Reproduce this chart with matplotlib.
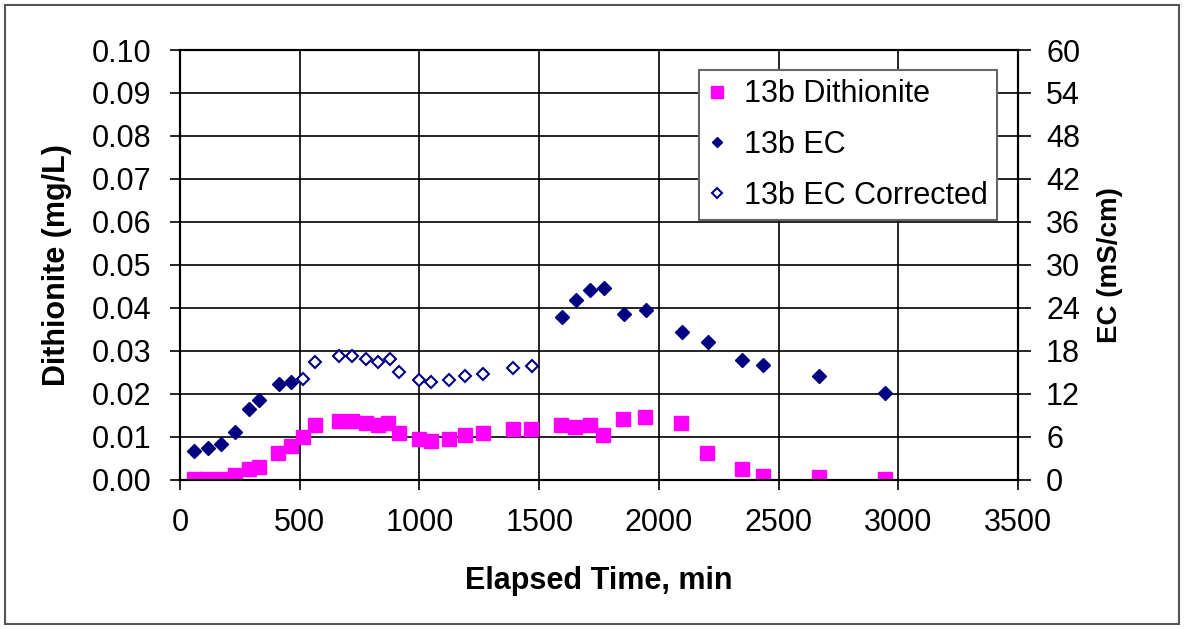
import matplotlib.pyplot as plt
from matplotlib.patches import Rectangle

plt.rcParams['font.family'] = ['Liberation Sans', 'DejaVu Sans']

# dithionite samples
t_dith = [60, 110, 170, 230, 290, 330, 410, 465, 515, 565, 665, 720, 775, 825, 870,
          915, 1000, 1050, 1125, 1190, 1265, 1390, 1465, 1590, 1650, 1710, 1765, 1850,
          1940, 2090, 2200, 2345, 2435, 2670, 2945]
dith = [0.0002, 0.0002, 0.0002, 0.0012, 0.0026, 0.0030, 0.0062, 0.0080, 0.0099, 0.0128,
        0.0137, 0.0137, 0.0132, 0.0128, 0.0132, 0.0108, 0.0095, 0.0090, 0.0095, 0.0105,
        0.0108, 0.0118, 0.0118, 0.0128, 0.0123, 0.0128, 0.0105, 0.0142, 0.0147, 0.0133,
        0.0063, 0.0025, 0.0008, 0.0006, 0.0002]

# EC raw
t_ec = [60, 115, 170, 230, 290, 330, 415, 465,
        1595, 1655, 1710, 1770, 1855, 1945, 2095, 2205, 2345, 2435, 2670, 2945]
ec = [4.1, 4.5, 5.0, 6.7, 9.95, 11.1, 13.4, 13.6,
      22.8, 25.1, 26.5, 26.75, 23.1, 23.7, 20.6, 19.2, 16.7, 16.1, 14.5, 12.2]

# EC corrected
t_ecc = [515, 565, 665, 720, 775, 825, 875, 915, 1000, 1050, 1125, 1190, 1265, 1390, 1470]
ec_corr = [14.1, 16.4, 17.3, 17.3, 16.9, 16.4, 16.9, 15.1, 13.9, 13.6, 13.9, 14.5,
           14.8, 15.6, 15.95]

fig = plt.figure(figsize=(11.84, 6.29), dpi=100)
fig.patches.append(Rectangle((0.004, 0.008), 0.992, 0.984, transform=fig.transFigure,
                             fill=False, edgecolor='#555555', linewidth=1.5))
ax = fig.add_axes([0.152, 0.237, 0.708, 0.6835])
ax2 = ax.twinx()

ax.plot(t_dith, dith, ls='none', marker='s', ms=10, color='#FF00FF',
        mec='#FF00FF', label='13b Dithionite', zorder=3)
ax2.plot(t_ec, ec, ls='none', marker='D', ms=7, color='#000080',
         label='13b EC', zorder=3)
ax2.plot(t_ecc, ec_corr, ls='none', marker='D', ms=6.5, mfc='white', mec='#000080',
         mew=1.5, label='13b EC Corrected', zorder=3)

ax.set_xlim(0, 3500)
ax.set_ylim(0, 0.10)
ax2.set_ylim(0, 60)
ax.set_xticks(range(0, 3501, 500))
ax.set_yticks([i / 100 for i in range(11)])
ax.set_yticklabels([f'{i / 100:.2f}' for i in range(11)])
ax2.set_yticks(range(0, 61, 6))

ax.grid(True, color='black', linewidth=1.2)
ax.set_axisbelow(True)
for a in (ax, ax2):
    a.tick_params(labelsize=22, length=7.5, width=1.2, direction='out')
    for s in a.spines.values():
        s.set_linewidth(1.5)
        s.set_color('black')
ax.tick_params(axis='y', pad=13)
ax.tick_params(axis='x', pad=13)
ax2.tick_params(axis='y', pad=11, length=9)

ax.set_xlabel('Elapsed Time, min', fontsize=22, fontweight='bold', labelpad=20)
ax.set_ylabel('Dithionite (mg/L)', fontsize=22, fontweight='bold', labelpad=14)
ax2.set_ylabel('EC (mS/cm)', fontsize=20, fontweight='bold', labelpad=12)

h1, l1 = ax.get_legend_handles_labels()
h2, l2 = ax2.get_legend_handles_labels()
leg = ax2.legend(h1 + h2, l1 + l2, loc='upper right', bbox_to_anchor=(0.975, 0.953),
                 borderaxespad=0, fontsize=22, fancybox=False, framealpha=1,
                 edgecolor='#666666', handletextpad=0.6, markerscale=0.8,
                 borderpad=0.3, labelspacing=0.68, handlelength=0.6)
leg.get_frame().set_linewidth(1.5)

fig.savefig('out.png', dpi=100)
